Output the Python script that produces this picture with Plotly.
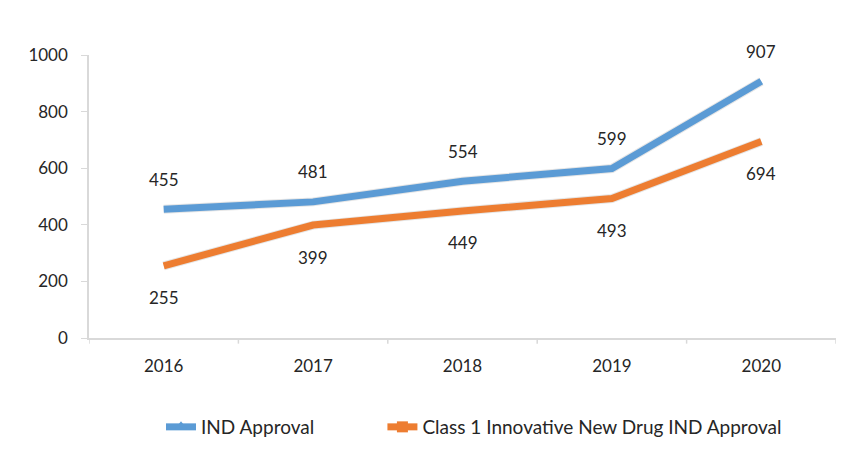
import plotly.graph_objects as go

years = ["2016", "2017", "2018", "2019", "2020"]
ind_approval = [455, 481, 554, 599, 907]
class1_approval = [255, 399, 449, 493, 694]
y_ticks = [0, 200, 400, 600, 800, 1000]

BLUE = "#5b9bd5"
ORANGE = "#ed7d31"
FONT = "Lato"
TXT = "#262626"

fig = go.Figure()
# shadow traces
fig.add_trace(go.Scatter(
    x=years, y=ind_approval, mode="lines", showlegend=False, hoverinfo="skip",
    line=dict(color="rgba(0,0,0,0.10)", width=9),
))
fig.add_trace(go.Scatter(
    x=years, y=class1_approval, mode="lines", showlegend=False, hoverinfo="skip",
    line=dict(color="rgba(0,0,0,0.10)", width=9),
))
fig.add_trace(go.Scatter(
    x=years, y=ind_approval, name="IND Approval", mode="lines",
    line=dict(color=BLUE, width=7), showlegend=False,
))
fig.add_trace(go.Scatter(
    x=years, y=class1_approval, name="Class 1 Innovative New Drug IND Approval", mode="lines",
    line=dict(color=ORANGE, width=7), showlegend=False,
))
# legend entries
fig.add_trace(go.Scatter(
    x=[None], y=[None], name="IND Approval" + "\u00a0" * 13, mode="lines+markers",
    line=dict(color=BLUE, width=7), marker=dict(symbol="triangle-up", size=11, color=BLUE),
))
fig.add_trace(go.Scatter(
    x=[None], y=[None], name="Class 1 Innovative New Drug IND Approval", mode="lines+markers",
    line=dict(color=ORANGE, width=7), marker=dict(symbol="square", size=11, color=ORANGE),
))

for i, v in enumerate(ind_approval):
    fig.add_annotation(x=i, y=v, xref="x", yref="y", text=str(v), showarrow=False, yshift=30,
                       font=dict(family=FONT, size=17, color=TXT))
for i, v in enumerate(class1_approval):
    fig.add_annotation(x=i, y=v, xref="x", yref="y", text=str(v), showarrow=False, yshift=-32,
                       font=dict(family=FONT, size=17, color=TXT))

fig.update_layout(
    width=861, height=453,
    margin=dict(l=81, r=33, t=47, b=123, autoexpand=False),
    paper_bgcolor="white", plot_bgcolor="white",
    font=dict(family=FONT, size=16, color=TXT),
    showlegend=True,
    legend=dict(orientation="h", x=153 / 861, xanchor="left", xref="container",
                y=1 - 419 / 453, yanchor="middle", yref="container",
                font=dict(family=FONT, size=19, color=TXT),
                tracegroupgap=0, itemclick=False),
)
fig.update_xaxes(
    type="category", range=[-0.5, 4.5], automargin=False,
    showline=True, linecolor="#d9d9d9", linewidth=1.5,
    showgrid=False, ticks="", tickfont=dict(size=17),
    zeroline=False, ticklabelstandoff=12,
)
fig.update_yaxes(
    range=[0, 1000], tickvals=y_ticks, automargin=False,
    showline=True, linecolor="#d9d9d9", linewidth=1.5,
    showgrid=False, ticks="outside", ticklen=6, tickcolor="#d9d9d9",
    tickfont=dict(size=17), zeroline=False, ticklabelstandoff=10,
)
for i in range(6):
    fig.add_shape(type="line", xref="x", yref="paper", x0=i - 0.5, x1=i - 0.5,
                  y0=0, y1=-0.02, line=dict(color="#d9d9d9", width=1.5))

fig.write_html("out.html")
